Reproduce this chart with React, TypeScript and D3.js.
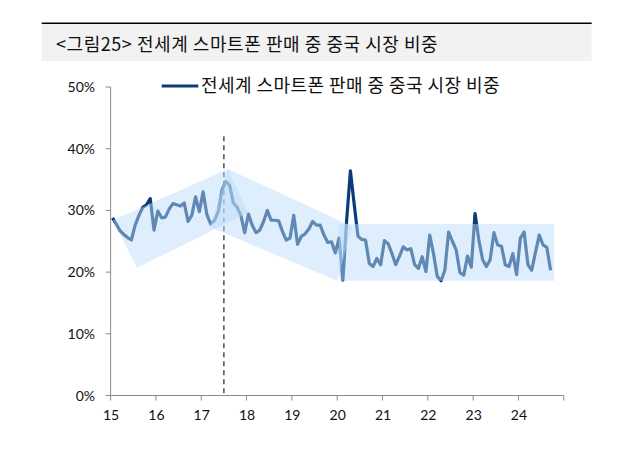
import React from "react";
import * as d3 from "d3";

// monthly share of China in global smartphone sales (%), Jan..Dec
const y2015 = [28.8, 27.8, 26.7, 26.1, 25.6, 25.2, 27.6, 29.2, 30.5, 30.9, 31.9, 26.8];
const y2016 = [29.9, 28.8, 28.9, 30.2, 31.1, 30.9, 30.7, 31.2, 28.2, 29.2, 32.2, 29.8];
const y2017 = [33.0, 29.3, 27.8, 28.4, 29.8, 33.3, 34.7, 34.1, 31.2, 30.5, 29.2, 26.4];
const y2018 = [29.4, 27.6, 26.4, 26.8, 28.2, 30.0, 28.4, 28.4, 28.3, 26.6, 25.2, 25.5];
const y2019 = [29.2, 24.5, 25.8, 26.2, 27.0, 28.2, 27.6, 27.6, 26.0, 24.8, 24.9, 23.1];
const y2020 = [25.5, 18.7, 28.4, 36.4, 31.0, 25.8, 25.3, 25.2, 21.4, 20.9, 22.2, 21.2];
const y2021 = [25.1, 24.6, 23.0, 21.2, 22.6, 24.1, 23.6, 23.8, 21.2, 20.6, 22.5, 20.1];
const y2022 = [26.0, 23.0, 19.3, 18.6, 20.3, 26.5, 25.0, 23.6, 19.9, 19.5, 22.6, 20.8];
const y2023 = [29.5, 25.2, 22.0, 20.9, 22.0, 26.4, 24.4, 24.2, 21.2, 20.9, 23.0, 19.6];
const y2024 = [25.5, 26.5, 21.2, 20.3, 23.2, 26.0, 24.4, 24.0, 20.3];

const shareValues = [...y2015, ...y2016, ...y2017, ...y2018, ...y2019, ...y2020, ...y2021, ...y2022, ...y2023, ...y2024];

const xTicks = [15, 16, 17, 18, 19, 20, 21, 22, 23, 24, 25];
const xLabels = ["15", "16", "17", "18", "19", "20", "21", "22", "23", "24"];
const yTicks = [0, 10, 20, 30, 40, 50];

// trend bands [year, %]
const bandUp = [[15.05, 28.4], [15.58, 20.7], [18.03, 29.6], [17.59, 36.7]];
const bandDown = [[17.59, 36.7], [20.33, 27.4], [20.0, 18.6], [17.19, 27.3]];
const bandFlat = [[20.04, 27.8], [24.79, 27.8], [24.79, 18.6], [20.04, 18.6]];
const bands = [bandUp, bandDown, bandFlat];

const markerYear = 17.5;
const markerTop = 42;

const titleText = "<그림25> 전세계 스마트폰 판매 중 중국 시장 비중";
const seriesName = "전세계 스마트폰 판매 중 중국 시장 비중";

const korFont = "'Noto Sans CJK KR', 'Noto Sans', sans-serif";
const numFont = "Lato, 'Liberation Sans', sans-serif";

export default function App() {
  const width = 633;
  const height = 464;

  const x = d3.scaleLinear().domain([15, 25]).range([110.6, 563.8]);
  const y = d3.scaleLinear().domain([0, 50]).range([395.5, 87]);

  const points = shareValues.map((v, i) => ({ t: 15 + (i + 0.5) / 12, v }));

  const line = d3
    .line<{ t: number; v: number }>()
    .x((d) => x(d.t))
    .y((d) => y(d.v));

  const poly = (pts: number[][]) =>
    "M" + pts.map((p) => `${x(p[0])},${y(p[1])}`).join("L") + "Z";

  const navy = "#0c3c78";
  const axisColor = "#8a8a8a";

  return (
    <svg
      width={width}
      height={height}
      style={{ position: "absolute", left: 0, top: 0, background: "#fff" }}
    >
      {/* title block */}
      <rect x={41.7} y={24} width={550} height={37} fill="#f2f2f2" />
      <line x1={41.7} x2={591.7} y1={23.3} y2={23.3} stroke="#000" strokeWidth={1.5} />
      <text x={56} y={50.5} fontFamily={korFont} fontSize={18} letterSpacing={0.55} fill="#111">
        {titleText}
      </text>

      {/* legend */}
      <line x1={161.7} x2={198.3} y1={86} y2={86} stroke={navy} strokeWidth={3} />
      <text x={201} y={92} fontFamily={korFont} fontSize={18} letterSpacing={0.45} fill="#111">
        {seriesName}
      </text>

      {/* y axis */}
      <line x1={x(15)} x2={x(15)} y1={y(0)} y2={y(50)} stroke={axisColor} strokeWidth={1} />
      {yTicks.map((t) => (
        <g key={"y" + t}>
          <line x1={x(15) - 5} x2={x(15)} y1={y(t)} y2={y(t)} stroke={axisColor} strokeWidth={1} />
          <text
            x={95}
            y={y(t) + 5}
            textAnchor="end"
            fontFamily={numFont}
            fontSize={14}
            fill="#111"
          >
            {t + "%"}
          </text>
        </g>
      ))}

      {/* x axis */}
      <line x1={x(15)} x2={x(25)} y1={y(0)} y2={y(0)} stroke={axisColor} strokeWidth={1} />
      {xTicks.map((t) => (
        <line key={"xt" + t} x1={x(t)} x2={x(t)} y1={y(0)} y2={y(0) + 5} stroke={axisColor} strokeWidth={1} />
      ))}
      {xLabels.map((l, i) => (
        <text
          key={"xl" + l}
          x={x(xTicks[i]) + 0.5}
          y={y(0) + 24}
          textAnchor="middle"
          fontFamily={numFont}
          fontSize={14}
          fill="#111"
        >
          {l}
        </text>
      ))}

      {/* dashed marker */}
      <line
        x1={x(markerYear)}
        x2={x(markerYear)}
        y1={y(markerTop)}
        y2={y(0)}
        stroke="#222"
        strokeWidth={1.2}
        strokeDasharray="5,4"
      />

      {/* series */}
      <path
        d={line(points) ?? ""}
        fill="none"
        stroke={navy}
        strokeWidth={3.2}
        strokeLinejoin="round"
      />

      {/* trend bands on top */}
      {bands.map((b, i) => (
        <path key={"b" + i} d={poly(b)} fill="rgb(185,220,248)" fillOpacity={0.48} />
      ))}
    </svg>
  );
}
